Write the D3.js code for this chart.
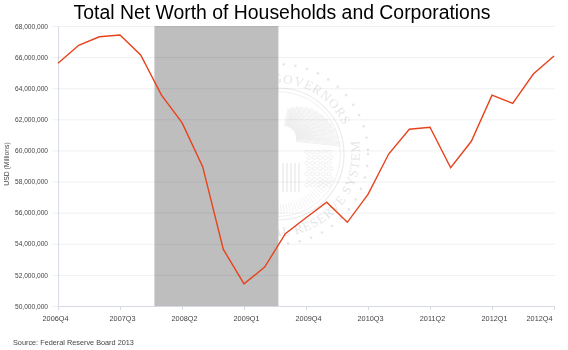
<!DOCTYPE html>
<html>
    <head>
        <meta charset="utf-8">
        <title>Total Net Worth of Households and Corporations</title>
        <script src="https://d3js.org/d3.v7.min.js"></script>
        <style>
            html, body { margin: 0; padding: 0; background: #fff; }
            svg { display: block; }
            text { font-family: "Liberation Sans", Arial, sans-serif; }
        </style>
    </head>

    <body>
        <svg id="chart" width="568" height="350"></svg>
    </body>

    <script>
        // values in millions of USD
        var quarters = ["2006Q4","2007Q1","2007Q2","2007Q3","2007Q4","2008Q1","2008Q2","2008Q3","2008Q4",
            "2009Q1","2009Q2","2009Q3","2009Q4","2010Q1","2010Q2","2010Q3","2010Q4",
            "2011Q1","2011Q2","2011Q3","2011Q4","2012Q1","2012Q2","2012Q3","2012Q4"]
        var netWorth = [65600000,66760000,67310000,67420000,66140000,63570000,61790000,58960000,53640000,
            51420000,52500000,54650000,55670000,56670000,55380000,57180000,59770000,
            61360000,61490000,58890000,60590000,63550000,63030000,64910000,66070000]
        var xTickLabels = ["2006Q4","2007Q3","2008Q2","2009Q1","2009Q4","2010Q3","2011Q2","2012Q1","2012Q4"]
        var yTickValues = [50000000,52000000,54000000,56000000,58000000,60000000,62000000,64000000,66000000,68000000]
        var recession = ["2007Q4","2009Q2"]

        var svg = d3.select("svg")
        var left = 58, right = 554, top_ = 26, bottom = 306

        var x = d3.scalePoint().domain(quarters).range([left, right])
        var y = d3.scaleLinear().domain([50000000, 68000000]).range([bottom, top_])
        var bandOffset = x.step() * 0.665

        // watermark seal, sits under the shaded band
        var cx = 278, cy = 154
        var seal = svg.append("g").attr("fill", "none").attr("stroke", "#ececec")
        seal.append("circle").attr("cx", cx).attr("cy", cy).attr("r", 66).attr("stroke-width", 1.2)
        seal.append("circle").attr("cx", cx).attr("cy", cy).attr("r", 62.5).attr("stroke-width", 0.8)
        seal.selectAll(".dot").data(d3.range(0, 360, 7.6)).enter().append("circle")
            .attr("cx", function(d){ return cx + 90 * Math.cos(d * Math.PI / 180) })
            .attr("cy", function(d){ return cy + 90 * Math.sin(d * Math.PI / 180) })
            .attr("r", 1.3).attr("stroke", "none").attr("fill", "#e6e6e6")

        // wing feathers
        d3.range(-78, 8, 7).forEach(function(a, i){
            var r0 = 12, r1 = 30 + i * 2.2
            var c = Math.cos(a * Math.PI / 180), s = Math.sin(a * Math.PI / 180)
            d3.range(-2, 3).forEach(function(k){
                seal.append("line")
                    .attr("x1", 284 + r0 * c + k * s * 1.1).attr("y1", 138 + r0 * s - k * c * 1.1)
                    .attr("x2", 284 + r1 * c + k * s * 1.1).attr("y2", 138 + r1 * s - k * c * 1.1)
                    .attr("stroke-width", 0.7)
            })
        })
        // shield stripes
        d3.range(283, 301, 4).forEach(function(px){
            seal.append("line").attr("x1", px).attr("y1", 163).attr("x2", px).attr("y2", 192).attr("stroke-width", 1.4)
        })
        // arrows and olive cluster
        d3.range(0, 35).forEach(function(i){
            seal.append("circle")
                .attr("cx", 307 + (i % 5) * 5.5 + (Math.floor(i / 5) % 2) * 2)
                .attr("cy", 152 + Math.floor(i / 5) * 5.5)
                .attr("r", 2).attr("stroke-width", 0.8)
        })
        // lower hatch band
        d3.range(30, 92, 3).forEach(function(a){
            var c = Math.cos(a * Math.PI / 180), s = Math.sin(a * Math.PI / 180)
            seal.append("line")
                .attr("x1", cx + 50 * c).attr("y1", cy + 50 * s)
                .attr("x2", cx + 60 * c).attr("y2", cy + 60 * s)
                .attr("stroke-width", 0.7)
        })

        var upper = d3.path()
        upper.arc(cx, cy, 71, -Math.PI, -23 * Math.PI / 180)
        var lower = d3.path()
        lower.arc(cx, cy, 82, Math.PI, -10 * Math.PI / 180, true)
        var defs = svg.append("defs")
        defs.append("path").attr("id", "sealTop").attr("d", upper.toString())
        defs.append("path").attr("id", "sealBottom").attr("d", lower.toString())

        var sealText = [["#sealTop", "BOARD OF GOVERNORS"], ["#sealBottom", "FEDERAL RESERVE SYSTEM"]]
        sealText.forEach(function(t){
            svg.append("text")
                .style("font-family", "'Liberation Serif', serif")
                .attr("font-size", 13).attr("letter-spacing", 1).attr("fill", "#e6e6e6")
                .append("textPath").attr("href", t[0]).attr("startOffset", "100%")
                .attr("text-anchor", "end").text(t[1])
        })

        // shaded recession band
        svg.append("rect")
            .attr("x", x(recession[0]) + bandOffset)
            .attr("y", top_)
            .attr("width", x(recession[1]) - x(recession[0]))
            .attr("height", bottom - top_)
            .attr("fill", "#bebebe")

        // y axis with gridlines
        var yAxis = d3.axisLeft(y).tickValues(yTickValues).tickSize(0).tickPadding(10)
            .tickFormat(d3.format(","))
        var gy = svg.append("g").attr("transform", "translate(" + left + ",0)").call(yAxis)
        gy.select(".domain").attr("stroke", "#d9dde6").attr("stroke-width", 1)
        gy.selectAll("text").attr("fill", "#444").attr("font-size", 6.6)
        gy.selectAll(".tick line")
            .attr("x1", -6).attr("x2", right - left + 1)
            .attr("stroke", "#eff1f4").attr("stroke-width", 1)
            .style("mix-blend-mode", "multiply")

        // x axis
        var xAxis = d3.axisBottom(x).tickValues(xTickLabels).tickSize(4).tickSizeOuter(0).tickPadding(6)
        var gx = svg.append("g").attr("transform", "translate(0," + bottom + ")").call(xAxis)
        gx.select(".domain").attr("stroke", "#d4d9e4").attr("stroke-width", 1)
        gx.selectAll(".tick line").attr("stroke", "#d4d9e4")
        gx.selectAll("text").attr("fill", "#444").attr("font-size", 7.3)
            .attr("dx", function(d){
                if (d == "2006Q4") return -3
                if (d == "2012Q4") return -15
                return 2
            })

        // the series
        var line = d3.line()
            .x(function(d, i){ return x(quarters[i]) })
            .y(function(d){ return y(d) })
        svg.append("path")
            .datum(netWorth)
            .attr("d", line)
            .attr("fill", "none")
            .attr("stroke", "#e8421c")
            .attr("stroke-width", 1.4)
            .attr("stroke-linejoin", "miter")

        svg.append("text")
            .attr("x", 282).attr("y", 19)
            .attr("text-anchor", "middle")
            .attr("font-size", 19.4)
            .attr("fill", "#000")
            .text("Total Net Worth of Households and Corporations")

        svg.append("text")
            .attr("transform", "translate(9,164) rotate(-90)")
            .attr("text-anchor", "middle")
            .attr("font-size", 6.8)
            .attr("fill", "#444")
            .text("USD (Millions)")

        svg.append("text")
            .attr("x", 13).attr("y", 345)
            .attr("font-size", 7.3)
            .attr("fill", "#444")
            .text("Source: Federal Reserve Board 2013")
    </script>
</html>
